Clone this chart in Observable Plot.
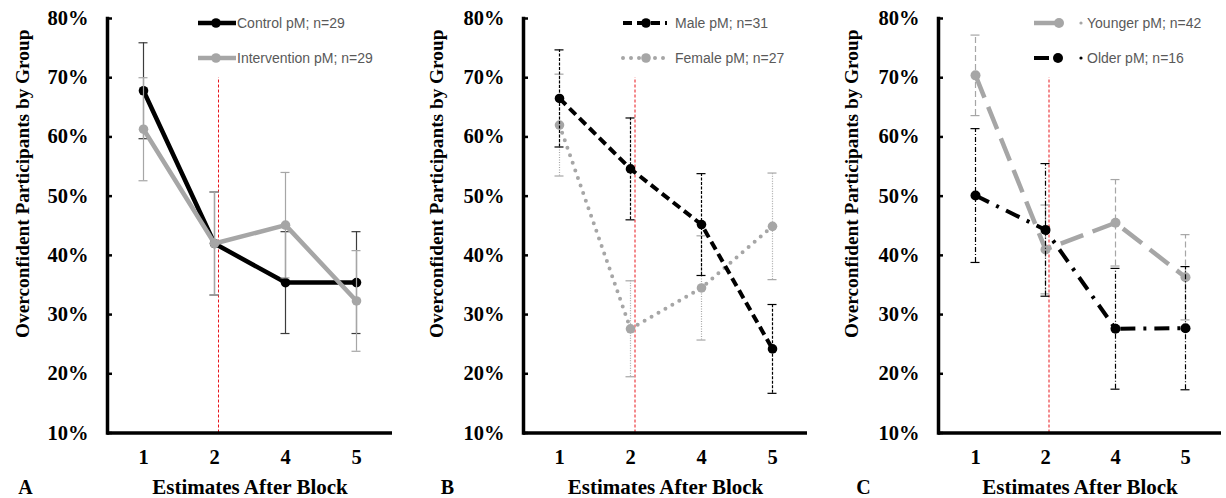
<!DOCTYPE html>
<html><head><meta charset="utf-8">
<script src="https://cdn.jsdelivr.net/npm/d3@7"></script>
<script src="https://cdn.jsdelivr.net/npm/@observablehq/plot@0.6"></script>
<style>
body{margin:0;background:#fff;}
#wrap{position:relative;width:1226px;height:498px;overflow:hidden;}
.panel{position:absolute;top:0;}
.panel svg{overflow:visible;}
.leg{position:absolute;height:16px;line-height:16px;font-family:"Liberation Sans",Arial,sans-serif;font-size:14px;color:#595959;white-space:nowrap;}
.legsvg{position:absolute;overflow:visible;}
</style></head><body><div id="wrap"></div>
<script>
// ---- data ----
const blocks = ["1", "2", "4", "5"];
const yTicks = [0.1, 0.2, 0.3, 0.4, 0.5, 0.6, 0.7, 0.8];
const yLabel = "Overconfident Participants by Group";
const xLabel = "Estimates After Block";
const splitBlock = "2";
const splitRange = [0.1, 0.7];

// Panel A
const controlName = "Control pM; n=29";
const controlVals = [0.678, 0.420, 0.354, 0.354];
const controlErr  = [0.081, 0.087, 0.086, 0.086];
const interventionName = "Intervention pM; n=29";
const interventionVals = [0.613, 0.420, 0.451, 0.323];
const interventionErr  = [0.087, 0.087, 0.089, 0.085];

// Panel B
const maleName = "Male pM; n=31";
const maleVals = [0.665, 0.546, 0.452, 0.242];
const maleErr  = [0.082, 0.086, 0.086, 0.075];
const femaleName = "Female pM; n=27";
const femaleVals = [0.620, 0.276, 0.345, 0.449];
const femaleErr  = [0.086, 0.081, 0.088, 0.090];

// Panel C
const youngerName = "Younger pM; n=42";
const youngerVals = [0.704, 0.410, 0.455, 0.363];
const youngerErr  = [0.068, 0.075, 0.073, 0.072];
const olderName = "Older pM; n=16";
const olderVals = [0.501, 0.443, 0.276, 0.277];
const olderErr  = [0.113, 0.112, 0.102, 0.104];

// ---- helpers ----
const rows = (vals, errs) => blocks.map((b, i) => ({block: b, v: vals[i], e: errs[i]}));
const serif = '"Liberation Serif","Times New Roman",serif';
const wrap = document.getElementById("wrap");

function seriesMarks(s) {
  const data = rows(s.vals, s.errs);
  return [
    Plot.ruleX(data, {x: "block", y1: d => d.v - d.e, y2: d => d.v + d.e, stroke: s.errColor, strokeWidth: 1.2, strokeDasharray: s.errDash}),
    Plot.ruleY(data, {x1: "block", x2: "block", y: d => d.v + d.e, insetLeft: -4.5, insetRight: -4.5, stroke: s.errColor, strokeWidth: 1.2}),
    Plot.ruleY(data, {x1: "block", x2: "block", y: d => d.v - d.e, insetLeft: -4.5, insetRight: -4.5, stroke: s.errColor, strokeWidth: 1.2}),
    Plot.line(data, {x: "block", y: "v", stroke: s.color, strokeWidth: s.width, strokeDasharray: s.dash, strokeLinecap: s.cap || "butt"}),
    Plot.dot(data, {x: "block", y: "v", r: s.r, fill: s.color, stroke: "none"})
  ];
}

function panel(p) {
  const chart = Plot.plot({
    width: p.width, height: 498,
    marginLeft: p.marginLeft, marginRight: p.marginRight, marginTop: 18, marginBottom: 65.5,
    style: {fontFamily: serif, fontWeight: "bold", color: "#000", background: "transparent"},
    x: {type: "point", domain: blocks, padding: 0.5},
    y: {domain: [0.1, 0.8]},
    marks: [
      Plot.axisY({ticks: yTicks, tickFormat: d3.format(".0%"), tickSize: -5, tickPadding: 24, fontSize: 20.5, strokeWidth: 2.5, label: null}),
      Plot.axisX({tickSize: 0, tickPadding: 16, fontSize: 20.5, label: null}),
      Plot.ruleX([splitBlock], {x: d => d, y1: splitRange[0], y2: splitRange[1], dx: p.splitDx, stroke: "#e8141b", strokeWidth: 1, strokeDasharray: "3,2"}),
      ...p.series.flatMap(seriesMarks),
      Plot.frame({anchor: "left", strokeWidth: 3.5, stroke: "#000"}),
      Plot.ruleY([0.1], {stroke: "#000", strokeWidth: 3.5}),
      Plot.text([yLabel], {text: d => d, frameAnchor: "left", rotate: -90, dx: p.yLabelDx, dy: -42, fontSize: 19.3, textAnchor: "middle", lineAnchor: "middle"}),
      Plot.text([xLabel], {text: d => d, frameAnchor: "bottom", dy: 54.5, fontSize: 21, textAnchor: "middle", lineAnchor: "middle"}),
      Plot.text([p.letter], {text: d => d, frameAnchor: "bottom-left", dx: p.letterDx, dy: 54.5, fontSize: 20, textAnchor: "middle", lineAnchor: "middle"})
    ]
  });
  const div = document.createElement("div");
  div.className = "panel";
  div.style.left = p.left + "px";
  div.style.width = p.width + "px";
  div.appendChild(chart);
  wrap.appendChild(div);

  // legend (HTML overlay)
  p.legend.forEach((L, k) => {
    const s = p.series[L.idx];
    const yc = 23 + k * 35;
    const svgNS = "http://www.w3.org/2000/svg";
    const svg = document.createElementNS(svgNS, "svg");
    svg.setAttribute("class", "legsvg");
    svg.setAttribute("width", L.len + 12);
    svg.setAttribute("height", 16);
    svg.style.left = (p.left + L.x) + "px";
    svg.style.top = (yc - 8) + "px";
    const ln = document.createElementNS(svgNS, "line");
    ln.setAttribute("x1", 0); ln.setAttribute("x2", L.lineLen);
    ln.setAttribute("y1", 8); ln.setAttribute("y2", 8);
    ln.setAttribute("stroke", s.color); ln.setAttribute("stroke-width", s.width);
    if (s.dash) ln.setAttribute("stroke-dasharray", L.dash || s.dash);
    ln.setAttribute("stroke-linecap", s.cap || "butt");
    svg.appendChild(ln);
    const c = document.createElementNS(svgNS, "circle");
    c.setAttribute("cx", L.dot); c.setAttribute("cy", 8); c.setAttribute("r", s.r); c.setAttribute("fill", s.color);
    svg.appendChild(c);
    if (L.bullet) {
      const b = document.createElementNS(svgNS, "circle");
      b.setAttribute("cx", L.bullet); b.setAttribute("cy", 8); b.setAttribute("r", 1.6); b.setAttribute("fill", s.color);
      svg.appendChild(b);
    }
    wrap.appendChild(svg);
    const t = document.createElement("div");
    t.className = "leg";
    t.textContent = s.name;
    t.style.left = (p.left + L.textX) + "px";
    t.style.top = (yc - 8) + "px";
    wrap.appendChild(t);
  });
}

const gray = "#a6a6a6";

panel({
  left: 0, width: 408, marginLeft: 107, marginRight: 16, splitDx: 4, yLabelDx: -85, letter: "A", letterDx: -82,
  series: [
    {name: controlName, vals: controlVals, errs: controlErr, color: "#000", width: 4.5, r: 4.8, errColor: "#3c3c3c"},
    {name: interventionName, vals: interventionVals, errs: interventionErr, color: gray, width: 4.5, r: 4.8, errColor: gray}
  ],
  legend: [
    {idx: 0, x: 198, len: 38, lineLen: 38, dot: 18, textX: 237},
    {idx: 1, x: 198, len: 38, lineLen: 38, dot: 18, textX: 237}
  ]
});

panel({
  left: 408, width: 408, marginLeft: 115, marginRight: 9, splitDx: 4.5, yLabelDx: -87, letter: "B", letterDx: -76,
  series: [
    {name: femaleName, vals: femaleVals, errs: femaleErr, color: gray, width: 4, r: 4.8, dash: "0,8", cap: "round", errColor: gray, errDash: "1,1.5"},
    {name: maleName, vals: maleVals, errs: maleErr, color: "#000", width: 4, r: 4.8, dash: "9,5", errColor: "#000", errDash: "3,1.5"}
  ],
  legend: [
    {idx: 1, x: 215, len: 44, lineLen: 44, dot: 23, textX: 267, dash: "9,5"},
    {idx: 0, x: 215, len: 44, lineLen: 44, dot: 23, textX: 267}
  ]
});

panel({
  left: 816, width: 410, marginLeft: 122, marginRight: 5, splitDx: 3.5, yLabelDx: -87, letter: "C", letterDx: -75,
  series: [
    {name: youngerName, vals: youngerVals, errs: youngerErr, color: gray, width: 4.5, r: 5, dash: "24,10", errColor: gray, errDash: "6,3"},
    {name: olderName, vals: olderVals, errs: olderErr, color: "#000", width: 4, r: 5, dash: "15,8,3,8", errColor: "#000", errDash: "5,2,1,2"}
  ],
  legend: [
    {idx: 0, x: 218, len: 50, lineLen: 24, dot: 25, bullet: 47, textX: 271},
    {idx: 1, x: 218, len: 50, lineLen: 18, dot: 24, bullet: 47, textX: 271}
  ]
});
</script></body></html>
